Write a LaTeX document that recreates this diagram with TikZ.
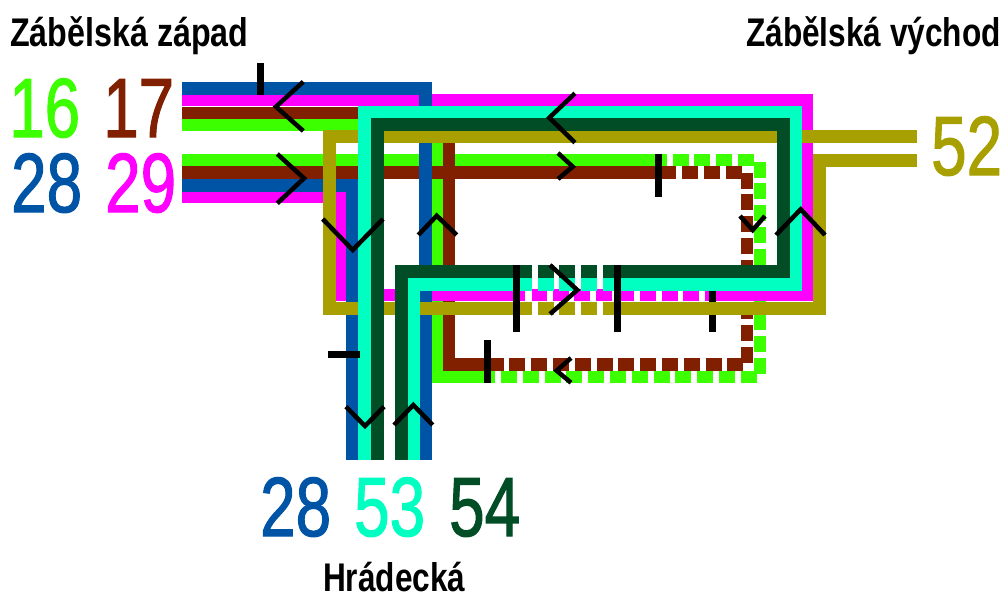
\documentclass[tikz,border=0pt]{standalone}
\usepackage{fontspec}
\setmainfont{Liberation Sans}
\newfontfamily\numfont[FakeBold=1.5]{Liberation Sans}
\definecolor{line16}{HTML}{3CFF00}
\definecolor{line17}{HTML}{802000}
\definecolor{line28}{HTML}{0054A6}
\definecolor{line29}{HTML}{FF00FF}
\definecolor{line52}{HTML}{A8A000}
\definecolor{line53}{HTML}{00FFC0}
\definecolor{line54}{HTML}{004D26}
\begin{document}
\begin{tikzpicture}[
    x=1pt, y=-1pt,
    track/.style={line width=12.5pt},
    gaps/.style={track, dash pattern=on 16pt off 5.8pt},
    chevron/.style={black, line width=4.5pt},
    stopbar/.style={black, line width=7pt},
    linenum/.style={anchor=base west, inner sep=0pt, xscale=0.76, font=\fontsize{84}{84}\numfont},
    stopname/.style={anchor=base west, inner sep=0pt, xscale=0.79, font=\fontsize{40}{40}\selectfont\bfseries}
]
\useasboundingbox (0,0) rectangle (1006,595);

% Line 16
\draw[track, line16] (182,125) -- (437,125) -- (437,377) -- (487,377);
\draw[gaps, line16] (756.7,377) -- (487,377);
\draw[track, line16] (182,160) -- (658,160);
\draw[gaps, line16] (754,160) -- (651,160);
\draw[gaps, line16] (760,161.5) -- (760,374);

% Line 17
\draw[track, line17] (182,113) -- (449,113) -- (449,364.5) -- (487,364.5);
\draw[gaps, line17] (743.3,364.5) -- (487,364.5);
\draw[track, line17] (182,172.5) -- (658,172.5);
\draw[gaps, line17] (741.5,172.5) -- (651,172.5);
\draw[gaps, line17] (747,172.5) -- (747,364);

% Line 29
\draw[track, line29] (182,197) -- (341,197) -- (341,295) -- (525,295);
\draw[gaps, line29] (699.3,295) -- (531.5,295);
\draw[track, line29] (705,295) -- (807,295) -- (807,100) -- (182,100);

% Line 28
\draw[track, line28, line width=13pt] (182,88.5) -- (425,88.5) -- (425,460);
\draw[track, line28, line width=13pt] (182,185) -- (352,185) -- (352,460);

% This stop bar lies under line 52
\draw[stopbar] (712.7,289.3) -- (712.7,332.3);

% Line 52
\draw[track, line52, line width=13pt] (916.5,136.5) -- (329,136.5) -- (329,308) -- (532,308);
\draw[gaps, line52, line width=13pt] (537.5,308) -- (597.5,308);
\draw[track, line52, line width=13pt] (603,308) -- (819,308) -- (819,160.7) -- (916.5,160.7);

% Line 53
\draw[track, line53] (364.5,460) -- (364.5,112.5) -- (796,112.5) -- (796,284.5) -- (603,284.5);
\draw[gaps, line53] (537.5,284.5) -- (597.5,284.5);
\draw[track, line53] (532,284.5) -- (413.5,284.5) -- (413.5,460);

% Line 54
\draw[track, line54, line width=13pt] (401,460) -- (401,271.5) -- (532,271.5);
\draw[gaps, line54, line width=13pt] (537.5,271.5) -- (597.5,271.5);
\draw[track, line54, line width=13pt] (603,271.5) -- (783.5,271.5) -- (783.5,124.5) -- (377,124.5) -- (377,460);

% Direction marks
\draw[chevron] (303.3,81.7) -- (276,106.7) -- (303.3,131);
\draw[chevron] (277.3,154) -- (304,178.3) -- (277.3,203.3);
\draw[chevron] (575,93.3) -- (549.3,117.7) -- (575,142.7);
\draw[chevron] (558,153) -- (572.7,166.7) -- (558,179);
\draw[chevron] (740,216) -- (752.7,230) -- (765,216);
\draw[chevron] (776,235) -- (800.7,209.3) -- (825,235);
\draw[chevron] (322.7,219) -- (352.7,250) -- (383,219);
\draw[chevron] (418.3,235) -- (436.7,215.7) -- (456.7,235);
\draw[chevron] (346,406.7) -- (365,426) -- (384,406.7);
\draw[chevron] (394,425) -- (413.3,405) -- (432.7,425);
\draw[chevron] (550,265) -- (577.3,290) -- (550,314);
\draw[chevron] (571,358) -- (556.7,370.7) -- (571,382.7);

% Stop bars
\draw[stopbar] (260,63) -- (260,95);
\draw[stopbar] (658,154) -- (658,196.7);
\draw[stopbar] (328.3,354.3) -- (360,354.3);
\draw[stopbar] (516.7,265) -- (516.7,332.3);
\draw[stopbar] (617.3,265) -- (617.3,332.3);
\draw[stopbar] (487,340) -- (487,383);

% Line numbers
\node[linenum, text=line16] (num16) at (9,137) {16};
\node[linenum, text=line17] (num17) at (103,137) {17};
\node[linenum, text=line28] (num28west) at (11,212) {28};
\node[linenum, text=line29] (num29) at (105,212) {29};
\node[linenum, text=line52] (num52) at (931,175) {52};
\node[linenum, text=line28] (num28south) at (260,536) {28};
\node[linenum, text=line53] (num53) at (354,536) {53};
\node[linenum, text=line54] (num54) at (449,536) {54};

% Stop names
\node[stopname, xscale=1.02] (zapad) at (10,46) {Zábělská západ};
\node[stopname] (vychod) at (746,46) {Zábělská východ};
\node[stopname] (hradecka) at (323,591) {Hrádecká};
\end{tikzpicture}
\end{document}
